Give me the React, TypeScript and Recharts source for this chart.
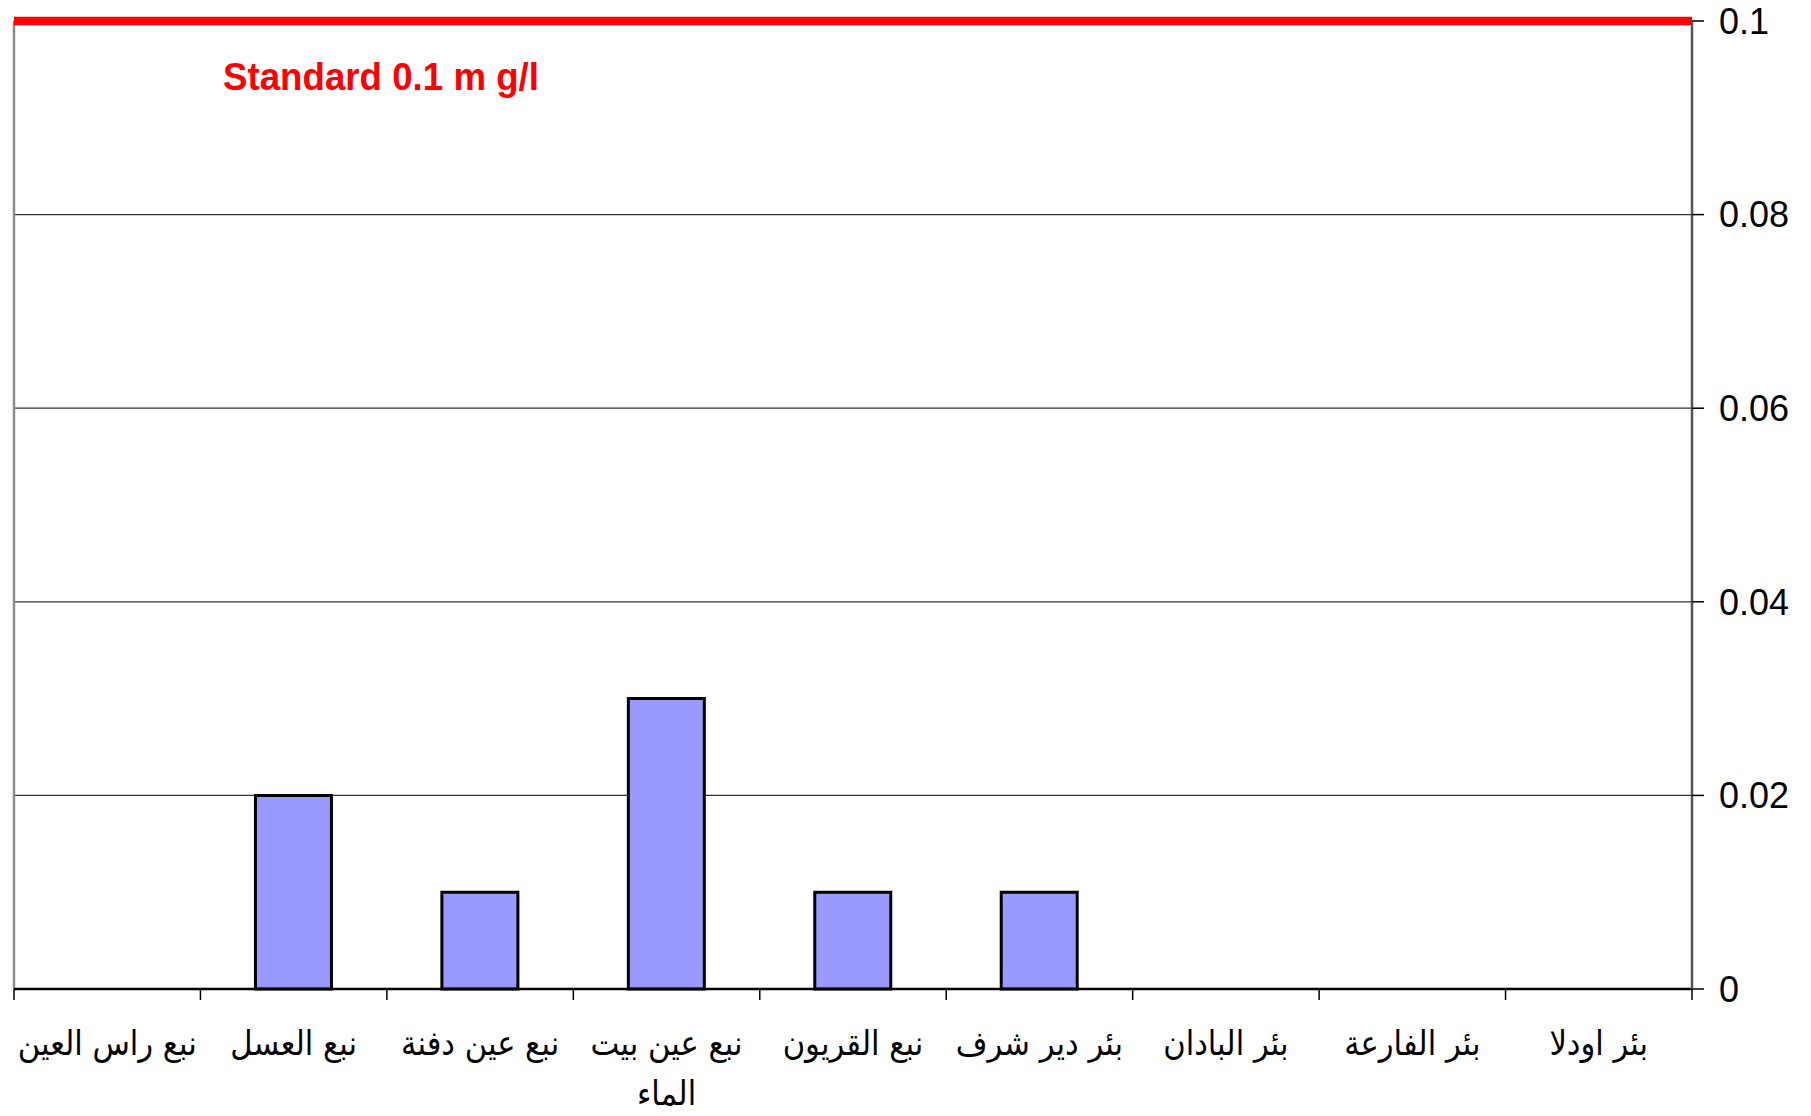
import React from 'react';
import { BarChart, Bar, XAxis, YAxis, CartesianGrid, ReferenceLine } from 'recharts';

// sampling sites (right-to-left reading order in the original, shown left to right here)
const sites = [
  'نبع راس العين',
  'نبع العسل',
  'نبع عين دفنة',
  'نبع عين بيت\nالماء',
  'نبع القريون',
  'بئر دير شرف',
  'بئر البادان',
  'بئر الفارعة',
  'بئر اودلا',
];

// measured concentration, mg/l
const values = [0, 0.02, 0.01, 0.03, 0.01, 0.01, 0, 0, 0];

const yTicks = [0, 0.02, 0.04, 0.06, 0.08, 0.1];
const STANDARD = 0.1;
const standardLabel = 'Standard 0.1 m g/l';

const data = sites.map((site, i) => ({ site, value: values[i], pos: i }));

const W = 1811;
const H = 1116;

// category label (split on explicit line breaks) plus the tick marks between categories
const SiteTick = (props: any) => {
  const { x, y, payload, width, index } = props;
  const lines = String(payload.value).split('\n');
  const half = width / sites.length / 2;
  const axisY = y - 8;
  return (
    <g>
      <line x1={x - half} x2={x - half} y1={axisY} y2={axisY + 11} stroke="#000" strokeWidth={1.5} />
      {index === sites.length - 1 && (
        <line x1={x + half} x2={x + half} y1={axisY} y2={axisY + 11} stroke="#000" strokeWidth={1.5} />
      )}
      {lines.map((line, i) => (
        <text
          key={i}
          x={x}
          y={y + 58 + i * 50}
          textAnchor="middle"
          direction="rtl"
          fontFamily="'DejaVu Sans Condensed', 'DejaVu Sans', sans-serif"
          fontSize={34}
          fill="#000"
        >
          {line}
        </text>
      ))}
    </g>
  );
};

const StandardLabel = (props: any) => {
  const vb = props.viewBox || {};
  return (
    <text
      x={(vb.x ?? 0) + 209}
      y={(vb.y ?? 0) + 69}
      fill="#ff0000"
      fontFamily="'Liberation Sans', Arial, sans-serif"
      fontWeight="bold"
      fontSize={39}
      textLength={316}
      lengthAdjust="spacingAndGlyphs"
    >
      {standardLabel}
    </text>
  );
};

export default function App() {
  return (
    <div style={{ position: 'absolute', left: 0, top: 0, width: W, height: H, background: '#fff' }}>
      <style>{'body{margin:0}'}</style>
      <BarChart
        width={W}
        height={H}
        data={data}
        margin={{ top: 21, right: 0, left: 14, bottom: 0 }}
        barCategoryGap="29.5%"
      >
        <CartesianGrid vertical={false} stroke="#333" strokeWidth={1.2} />
        <XAxis
          dataKey="site"
          height={127}
          axisLine={{ stroke: '#000', strokeWidth: 2.5 }}
          tickLine={false}
          interval={0}
          tick={<SiteTick />}
        />
        {/* hidden numeric axis used only to place the left plot border */}
        <XAxis xAxisId="b" type="number" dataKey="pos" domain={[0, sites.length]} hide />
        <YAxis
          orientation="right"
          width={119}
          domain={[0, 0.1]}
          ticks={yTicks}
          interval={0}
          tickSize={12}
          tickMargin={15}
          axisLine={{ stroke: '#555', strokeWidth: 2.5 }}
          tickLine={{ stroke: '#000', strokeWidth: 1.5 }}
          tick={{ fill: '#000', fontSize: 36, fontFamily: "'Liberation Sans', Arial, sans-serif" }}
        />
        <ReferenceLine xAxisId="b" x={0} stroke="#8c8c8c" strokeWidth={2.5} />
        <Bar
          dataKey="value"
          fill="#9999ff"
          stroke="#000"
          strokeWidth={3}
          isAnimationActive={false}
        />
        <ReferenceLine
          y={STANDARD}
          stroke="#ff0000"
          strokeWidth={8.5}
          label={<StandardLabel />}
        />
      </BarChart>
    </div>
  );
}
